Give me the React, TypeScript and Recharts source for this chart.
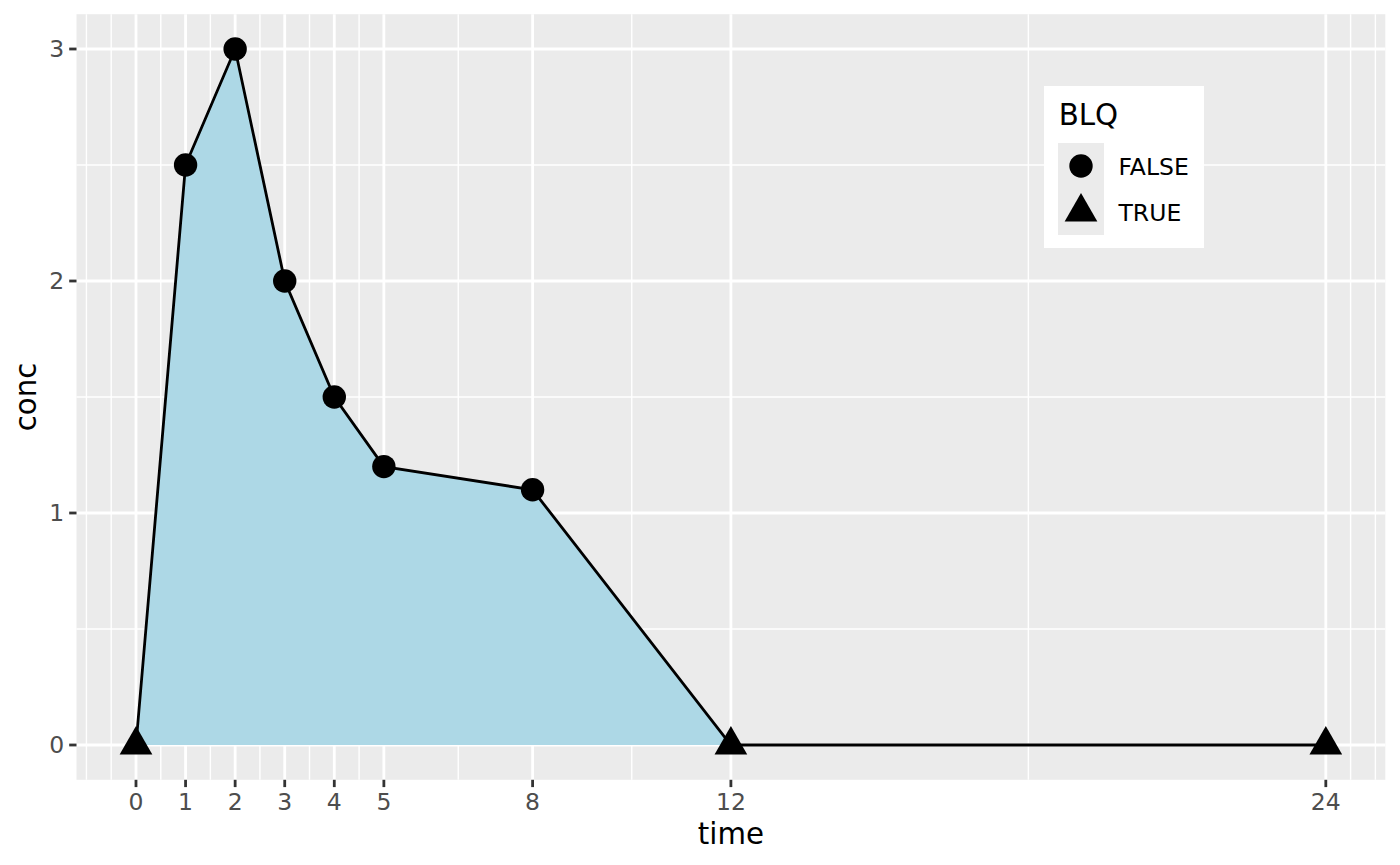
import {
  ComposedChart,
  Area,
  Line,
  Scatter,
  XAxis,
  YAxis,
  CartesianGrid,
  Legend,
  Label,
} from "recharts";

// concentration-time profile, BLQ samples drawn as triangles
const times = [0, 1, 2, 3, 4, 5, 8, 12, 24];
const concs = [0, 2.5, 3, 2, 1.5, 1.2, 1.1, 0, 0];
const blqFlags = [true, false, false, false, false, false, false, true, true];

const xTicks = [0, 1, 2, 3, 4, 5, 8, 12, 24];
const xMinor = [-1, -0.5, 0.5, 1.5, 2.5, 3.5, 4.5, 6.5, 10, 18, 24.5, 25];
const yTicks = [0, 1, 2, 3];
const yMinor = [0.5, 1.5, 2.5];
const blqLevels = ["FALSE", "TRUE"];

const data = times.map((t, i) => ({ time: t, conc: concs[i], blq: blqFlags[i] }));

const FONT = "DejaVu Sans";

function triangle(cx: number, cy: number) {
  const s = 32.7;
  const h = (s * Math.sqrt(3)) / 2;
  return `M${cx - s / 2},${cy + h / 3} L${cx + s / 2},${cy + h / 3} L${cx},${cy - (2 * h) / 3} Z`;
}

function BlqPoint(props: any) {
  const { cx, cy, payload } = props;
  if (cx == null || cy == null) return null;
  if (payload && payload.blq) return <path d={triangle(cx, cy)} fill="#000" />;
  return <circle cx={cx} cy={cy} r={11.7} fill="#000" />;
}

function BlqLegend() {
  return (
    <svg width={160} height={162} style={{ display: "block", fontFamily: FONT }}>
      <rect width={160} height={162} fill="#fff" />
      <text x={14.7} y={39} fontSize={29.3} fill="#000">
        BLQ
      </text>
      <rect x={14} y={57} width={46} height={92} fill="#EBEBEB" />
      {blqLevels.map((lv, i) => {
        const cy = 80 + i * 46;
        return (
          <g key={lv}>
            {lv === "TRUE" ? (
              <path d={triangle(37, cy)} fill="#000" />
            ) : (
              <circle cx={37} cy={cy} r={11.7} fill="#000" />
            )}
            <text x={74.5} y={cy + 8.7} fontSize={23.5} fill="#000">
              {lv}
            </text>
          </g>
        );
      })}
    </svg>
  );
}

export default function App() {
  return (
    <div style={{ position: "absolute", left: 0, top: 0, background: "#fff" }}>
      <ComposedChart
        width={1400}
        height={865}
        data={data}
        margin={{ top: 14.2, right: 14.7, bottom: 0, left: 0 }}
        style={{ fontFamily: FONT }}
      >
        <CartesianGrid
          fill="#EBEBEB"
          stroke="#fff"
          strokeWidth={1.4}
          verticalValues={xMinor}
          horizontalValues={yMinor}
        />
        <CartesianGrid
          stroke="#fff"
          strokeWidth={2.8}
          verticalValues={xTicks}
          horizontalValues={yTicks}
        />
        <XAxis
          dataKey="time"
          type="number"
          domain={[-1.2, 25.2]}
          ticks={xTicks}
          interval={0}
          height={85.2}
          axisLine={false}
          tickSize={7.3}
          tickMargin={6}
          tickLine={{ stroke: "#333333", strokeWidth: 2.8 }}
          tick={{ fill: "#4D4D4D", fontSize: 23.5 }}
          allowDataOverflow
        >
          <Label value="time" position="insideBottom" offset={21} fill="#000" fontSize={29.3} />
        </XAxis>
        <YAxis
          type="number"
          domain={[-0.15, 3.15]}
          ticks={yTicks}
          interval={0}
          width={76.5}
          axisLine={false}
          tickSize={7.3}
          tickMargin={5}
          tickLine={{ stroke: "#333333", strokeWidth: 2.8 }}
          tick={{ fill: "#4D4D4D", fontSize: 23.5 }}
          allowDataOverflow
        >
          <Label
            value="conc"
            angle={-90}
            position="insideLeft"
            offset={25.3}
            fill="#000"
            fontSize={29.3}
            style={{ textAnchor: "middle" }}
          />
        </YAxis>
        <Area
          dataKey="conc"
          type="linear"
          fill="#ADD8E6"
          fillOpacity={1}
          stroke="none"
          baseValue={0}
          isAnimationActive={false}
          legendType="none"
        />
        <Line
          dataKey="conc"
          type="linear"
          stroke="#000"
          strokeWidth={2.8}
          dot={false}
          activeDot={false}
          isAnimationActive={false}
          legendType="none"
        />
        <Scatter dataKey="conc" shape={BlqPoint} isAnimationActive={false} />
        <Legend
          layout="vertical"
          align="center"
          verticalAlign="middle"
          content={() => <BlqLegend />}
          wrapperStyle={{ left: 1044, top: 86, width: 160, height: 162 }}
        />
      </ComposedChart>
    </div>
  );
}
